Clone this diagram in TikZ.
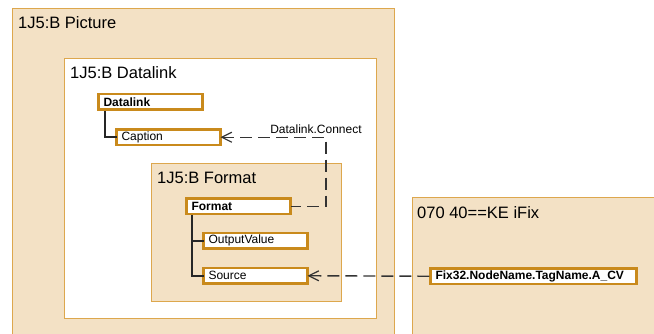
\documentclass[tikz,border=0pt]{standalone}
\usepackage{fontspec}
\setmainfont{Liberation Sans}
\usetikzlibrary{%
	positioning,
	calc,
	arrows.meta
}

\definecolor{framefill}{HTML}{F3E1C5}
\definecolor{frameline}{HTML}{DDA74D}
\definecolor{propline}{HTML}{C98A1C}

\begin{document}
\begin{tikzpicture}[x=1pt,y=-1pt,
		frame/.style={draw=frameline,line width=1.4pt,fill=framefill},
		title/.style={anchor=west,inner sep=0pt,font=\fontsize{16.5}{18}\selectfont},
		prop/.style={draw=propline,line width=2.8pt,fill=white,anchor=north west,outer sep=0pt,
			text width=94pt,align=left,inner xsep=5pt,inner ysep=0pt,minimum height=15.5pt,
			font=\fontsize{12}{14}\selectfont},
		tree/.style={draw=black!85,line width=2.4pt},
		conn/.style={draw=black!80,line width=1.4pt,dash pattern=on 12pt off 6pt,
			{Straight Barb[length=10pt,width=10pt,line width=1.2pt]}-}
	]

		\useasboundingbox (0,0) rectangle (654,334);
		\clip (0,0) rectangle (654,334);

		% the containers, outer ones run past the edge
		\draw[frame] (12.5,8.5) rectangle (394.5,360);
		\node(picture-title) [title] at (18,23) {1J5:B Picture};

		\draw[frame,fill=white] (64.5,58.5) rectangle (376.5,318.5);
		\node(datalink-title) [title] at (70,73) {1J5:B Datalink};

		\draw[frame] (151.5,163.5) rectangle (341.5,301.5);
		\node(format-title) [title] at (157,178) {1J5:B Format};

		\draw[frame] (412.5,197.5) rectangle (680,360);
		\node(ifix-title) [title] at (417,213) {070 40==KE iFix};

		% property boxes
		\node(dlink) [prop] at (98.5,94) {\textbf{Datalink}};
		\node(caption) [prop, below right=20pt and 18pt of dlink.south west] {Caption};

		\node(format) [prop] at (186.5,198.5) {\textbf{Format}};
		\node(outval) [prop, below right=19pt and 17pt of format.south west] {OutputValue};
		\node(source) [prop, below right=19.5pt and 0pt of outval.south west] {Source};

		\node(fix) [prop, text width=196pt] at (430.5,268.5) {\textbf{Fix32.NodeName.TagName.A\_CV}};

		% tree lines
		\draw[tree] ([xshift=6.5pt,yshift=-1.4pt]dlink.south west) |- (caption.west);
		\coordinate(ftrunk) at ([xshift=5.5pt,yshift=-1.4pt]format.south west);
		\draw[tree] (ftrunk) |- (source.west);
		\draw[tree] (ftrunk) |- (outval.west);

		% connections
		\coordinate(bend) at ([xshift=105.5pt]caption.east);
		\draw[conn] (caption.east) -- (bend) |- (format.east);
		\node(connect-label) [anchor=south,inner sep=1pt,font=\fontsize{12}{14}\selectfont]
			at ([xshift=-10pt,yshift=2pt]bend) {Datalink.Connect};

		\draw[conn] (source.east) -- (fix.west);

	\end{tikzpicture}
\end{document}
